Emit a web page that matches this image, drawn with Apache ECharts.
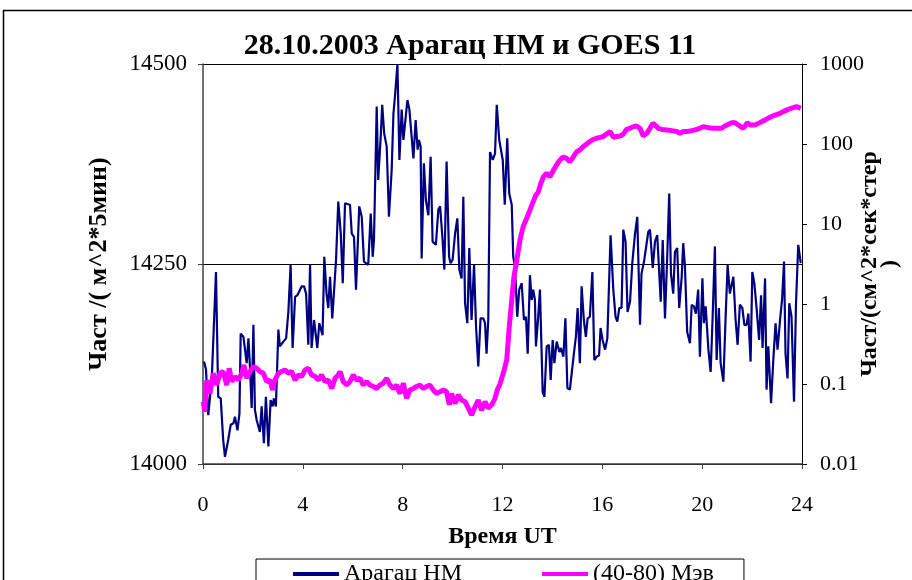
<!DOCTYPE html>
<html>
<head>
<meta charset="utf-8">
<script src="https://cdn.jsdelivr.net/npm/echarts@6/dist/echarts.min.js"></script>
<style>html,body{margin:0;padding:0;background:#fff}#c{width:912px;height:580px}</style>
</head>
<body>
<div id="c"></div>
<script>
// ---- data ----
const titleText = '28.10.2003 Арагац НМ и GOES 11';
const seriesNames = ['Арагац НМ', '(40-80) Мэв'];
const xTicks = [0, 4, 8, 12, 16, 20, 24];
const leftTicks = [14000, 14250, 14500];
const rightTicks = ['0.01', '0.1', '1', '10', '100', '1000'];

// Aragats neutron monitor (time in hours UT, counts)
const nmHours = [0.04,0.12,0.21,0.35,0.52,0.61,0.71,0.81,0.88,1.01,1.11,1.22,1.28,1.38,1.46,1.51,1.62,1.68,1.75,1.82,1.88,1.95,2.02,2.08,2.15,2.28,2.35,2.44,2.52,2.62,2.71,2.79,2.84,2.92,3.02,3.08,3.22,3.33,3.42,3.51,3.59,3.69,3.78,3.86,3.95,4.05,4.13,4.22,4.29,4.35,4.45,4.51,4.58,4.66,4.71,4.79,4.86,4.95,5.02,5.09,5.18,5.26,5.33,5.42,5.52,5.60,5.69,5.78,5.89,
5.96,6.05,6.13,6.26,6.36,6.45,6.53,6.62,6.72,6.80,6.85,6.96,7.02,7.12,7.18,7.26,7.36,7.45,7.56,7.63,7.69,7.79,7.87,7.96,8.03,8.09,8.19,8.27,8.36,8.43,8.52,8.60,8.65,8.72,8.76,8.85,8.93,9.03,9.12,9.20,9.27,9.33,9.43,9.50,9.60,9.67,9.76,9.86,9.92,10.00,10.10,10.19,10.27,10.36,10.43,10.50,10.59,10.67,10.76,10.86,10.94,11.03,11.12,11.23,11.30,11.36,11.43,11.50,11.61,11.70,11.77,11.87,
12.01,12.09,12.19,12.27,12.37,12.43,12.50,12.59,12.67,12.77,12.86,12.94,13.01,13.10,13.17,13.23,13.30,13.34,13.43,13.50,13.61,13.68,13.77,13.86,13.93,14.01,14.08,14.17,14.28,14.34,14.44,14.52,14.60,14.70,14.77,14.86,14.94,15.01,15.10,15.17,15.26,15.34,15.41,15.50,15.60,15.68,15.77,15.87,15.93,16.01,16.11,16.20,16.33,16.44,16.53,16.60,16.68,16.77,16.84,16.93,17.01,17.11,17.20,17.31,17.40,17.51,17.57,17.67,17.75,17.84,
17.91,18.02,18.11,18.20,18.27,18.34,18.42,18.51,18.60,18.68,18.75,18.84,18.91,19.00,19.08,19.18,19.24,19.31,19.40,19.51,19.58,19.67,19.75,19.84,19.91,20.01,20.07,20.14,20.25,20.34,20.42,20.51,20.58,20.67,20.74,20.85,20.94,21.02,21.11,21.18,21.25,21.34,21.42,21.51,21.61,21.69,21.78,21.85,21.94,22.01,22.09,22.18,22.28,22.36,22.42,22.52,22.58,22.65,22.76,22.85,22.94,23.02,23.12,23.20,23.28,23.34,23.42,23.49,23.58,23.68,23.76,23.85,23.95];
const nmValues = [14128,14118,14061,14105,14240,14084,14082,14030,14009,14030,14049,14051,14059,14042,14063,14163,14159,14157,14126,14157,14122,14070,14174,14068,14055,14040,14072,14026,14084,14022,14080,14072,14082,14072,14168,14147,14153,14157,14190,14249,14145,14209,14211,14209,14222,14222,14213,14149,14249,14145,14180,14182,14145,14176,14170,14161,14259,14213,14195,14234,14182,14182,14255,14328,14288,14226,14326,14325,14324,
14288,14284,14218,14322,14309,14253,14255,14249,14313,14259,14280,14447,14355,14409,14449,14413,14397,14309,14368,14438,14459,14500,14380,14443,14405,14405,14455,14443,14409,14382,14430,14393,14405,14397,14257,14376,14330,14311,14384,14278,14280,14274,14318,14322,14280,14243,14378,14259,14251,14255,14288,14307,14243,14232,14334,14201,14176,14270,14180,14249,14172,14122,14182,14182,14176,14138,14180,14390,14380,14388,14449,14405,
14380,14324,14407,14338,14324,14259,14247,14184,14218,14226,14180,14184,14138,14236,14205,14218,14205,14147,14184,14218,14090,14084,14147,14149,14105,14155,14126,14153,14140,14145,14134,14182,14095,14093,14095,14138,14159,14195,14126,14222,14180,14159,14182,14184,14240,14130,14134,14136,14170,14155,14143,14157,14286,14218,14184,14178,14195,14195,14293,14278,14190,14203,14251,14288,14309,14174,14238,14253,14255,14290,
14293,14245,14278,14286,14288,14203,14280,14182,14259,14338,14238,14213,14265,14270,14195,14234,14276,14247,14165,14151,14199,14197,14188,14218,14134,14232,14176,14197,14143,14115,14184,14272,14130,14195,14126,14103,14184,14249,14213,14213,14234,14180,14149,14199,14195,14174,14174,14188,14128,14240,14226,14195,14155,14211,14145,14232,14093,14147,14076,14130,14176,14143,14180,14205,14253,14138,14107,14201,14184,14078,14201,14274,14251];

// GOES 11 protons 40-80 MeV (time in hours UT, flux)
const goesHours = [0.01,0.07,0.15,0.28,0.41,0.55,0.68,0.81,0.95,1.05,1.15,1.28,1.42,1.55,1.64,1.75,1.88,2.02,2.15,2.28,2.42,2.55,2.68,2.79,2.88,3.02,3.15,3.29,3.42,3.55,3.69,3.82,3.95,4.09,4.22,4.35,4.49,4.62,4.75,4.89,5.02,5.16,5.29,5.42,5.49,5.62,5.76,5.89,6.02,6.16,6.29,6.42,6.56,6.69,6.82,6.96,7.09,7.22,7.36,7.49,7.63,7.76,7.89,8.03,8.16,8.29,8.43,8.56,8.69,8.83,8.96,9.09,9.23,9.36,9.50,9.63,9.76,9.87,9.96,10.10,10.23,10.36,10.50,10.63,10.76,10.90,11.03,11.16,11.30,11.43,11.57,11.70,11.79,11.90,12.03,12.17,12.27,12.37,12.46,12.57,12.70,12.83,12.97,13.10,13.23,13.34,13.43,13.53,13.64,13.77,13.90,14.04,14.17,14.30,14.44,14.57,14.70,14.84,14.97,15.10,15.24,15.37,15.50,15.64,15.77,15.91,16.04,16.17,16.31,16.44,16.57,16.71,16.84,16.97,17.11,17.24,17.37,17.51,17.64,17.78,17.91,18.02,18.11,18.24,18.38,18.58,18.78,18.98,19.11,19.25,19.38,19.51,19.71,19.91,20.04,20.25,20.45,20.65,20.78,20.91,21.05,21.18,21.31,21.45,21.65,21.81,21.92,22.12,22.31,22.52,22.72,22.92,23.12,23.25,23.45,23.65,23.78,23.95];
const goesValues = [0.06,0.045,0.112,0.076,0.136,0.097,0.136,0.143,0.097,0.157,0.107,0.124,0.112,0.136,0.173,0.118,0.143,0.165,0.157,0.143,0.136,0.107,0.112,0.084,0.112,0.136,0.143,0.150,0.136,0.143,0.112,0.130,0.124,0.150,0.157,0.130,0.124,0.112,0.130,0.107,0.112,0.088,0.118,0.130,0.143,0.107,0.097,0.107,0.130,0.112,0.118,0.097,0.107,0.097,0.093,0.088,0.097,0.102,0.118,0.097,0.088,0.097,0.076,0.102,0.066,0.084,0.088,0.093,0.097,0.088,0.093,0.097,0.084,0.076,0.080,0.084,0.080,0.055,0.076,0.057,0.073,0.063,0.060,0.050,0.041,0.052,0.063,0.047,0.060,0.050,0.055,0.066,0.084,0.10,0.136,0.20,0.52,1.12,2.2,3.5,6.3,9.3,11.8,15,19,23,25,32,39,43,39,47,55,63,69,66,60,69,80,84,93,100,107,114,118,121,124,133,143,121,124,126,133,152,157,165,168,157,126,136,157,181,173,157,152,150,147,143,136,143,143,145,150,157,165,160,157,157,157,168,176,185,185,173,157,185,173,173,185,200,216,230,242,254,271,284,293,279];

// ---- chart ----
const serif = '"Liberation Serif","Times New Roman",serif';
const nmData = nmHours.map((h, i) => [h, nmValues[i]]);
const goesData = goesHours.map((h, i) => [h, goesValues[i]]);

const chart = echarts.init(document.getElementById('c'), null, {renderer: 'canvas'});
chart.setOption({
  animation: false,
  backgroundColor: '#fff',
  title: {
    text: titleText, left: 465, top: 26, textAlign: 'center',
    textStyle: {fontFamily: serif, fontSize: 30, fontWeight: 'bold', color: '#000'}
  },
  graphic: [{
    type: 'rect', shape: {x: 3.5, y: 10.5, width: 1000, height: 1000},
    style: {fill: 'none', stroke: '#000', lineWidth: 1.5}, silent: true, z: -1
  }],
  grid: {left: 203, right: 110, top: 64, bottom: 116, containLabel: false, outerBoundsMode: 'none'},
  legend: {
    data: [
      {name: seriesNames[0], icon: 'rect', itemStyle: {color: '#000080'}},
      {name: seriesNames[1], icon: 'rect', itemStyle: {color: '#FF00FF'}}
    ],
    left: 256, top: 559, itemWidth: 46, itemHeight: 4, itemGap: 80,
    padding: [3, 30, 12, 37], borderColor: '#000', borderWidth: 1,
    textStyle: {fontFamily: serif, fontSize: 24, color: '#000'}
  },
  xAxis: {
    type: 'value', min: 0, max: 24, interval: 4,
    name: 'Время UT', nameLocation: 'middle', nameGap: 61, nameMoveOverlap: false,
    nameTextStyle: {fontFamily: serif, fontSize: 24, fontWeight: 'bold', color: '#000'},
    axisLine: {lineStyle: {color: '#404040', width: 1.5}},
    axisTick: {show: true, length: 5, lineStyle: {color: '#404040'}},
    axisLabel: {margin: 30, fontFamily: serif, fontSize: 22, color: '#000',
      formatter: v => xTicks.indexOf(v) >= 0 ? String(v) : ''},
    splitLine: {show: false}
  },
  yAxis: [{
    type: 'value', min: leftTicks[0], max: leftTicks[leftTicks.length - 1], interval: 250,
    position: 'left',
    name: 'Част /( м^2*5мин)', nameLocation: 'middle', nameGap: 91, nameRotate: 90, nameMoveOverlap: false,
    nameTextStyle: {fontFamily: serif, fontSize: 26, fontWeight: 'bold', color: '#000'},
    axisLine: {show: true, lineStyle: {color: '#404040', width: 1.5}},
    axisTick: {show: true, length: 5, lineStyle: {color: '#404040'}},
    axisLabel: {margin: 16, fontFamily: serif, fontSize: 23, color: '#000',
      formatter: v => String(v)},
    splitLine: {show: true, lineStyle: {color: '#000', width: 1}}
  }, {
    type: 'log', logBase: 10, min: 0.01, max: 1000, position: 'right',
    name: 'Част/(см^2*сек*стер\n)', nameLocation: 'middle', nameGap: 58, nameRotate: 90, nameMoveOverlap: false,
    nameTextStyle: {fontFamily: serif, fontSize: 24, fontWeight: 'bold', color: '#000', lineHeight: 20},
    axisLine: {show: true, lineStyle: {color: '#000', width: 1}},
    axisTick: {show: true, length: 5, lineStyle: {color: '#000'}},
    axisLabel: {margin: 18, fontFamily: serif, fontSize: 22, color: '#000',
      formatter: v => { const s = rightTicks.find(t => Math.abs(parseFloat(t) - v) / v < 1e-6); return s || ''; }},
    splitLine: {show: false}
  }],
  series: [{
    name: seriesNames[0], type: 'line', yAxisIndex: 0, data: nmData,
    showSymbol: false, symbol: 'none',
    lineStyle: {color: '#000080', width: 2.2}, itemStyle: {color: '#000080'}, z: 2
  }, {
    name: seriesNames[1], type: 'line', yAxisIndex: 1, data: goesData,
    showSymbol: false, symbol: 'none',
    lineStyle: {color: '#FF00FF', width: 5}, itemStyle: {color: '#FF00FF'}, z: 3
  }]
});
</script>
</body>
</html>
